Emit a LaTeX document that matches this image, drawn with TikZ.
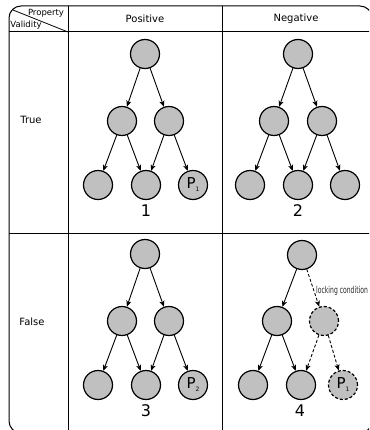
\documentclass[tikz,border=0pt]{standalone}
\usepackage{fontspec}
\setmainfont{DejaVu Sans}
\usetikzlibrary{arrows.meta}
\definecolor{nodegray}{RGB}{192,192,192}
\begin{document}
\begin{tikzpicture}[x=1pt,y=-1pt,
 tn/.style={circle,draw,fill=nodegray,line width=1.2pt,minimum size=29pt,inner sep=0pt},
 dn/.style={tn,dash pattern=on 3pt off 2pt},
 ar/.style={line width=0.9pt,-{Stealth[length=6pt,width=5pt,inset=1.5pt]}},
 dar/.style={ar,dash pattern=on 3pt off 2pt},
 hdr/.style={font=\fontsize{10}{12}\selectfont},
 small/.style={font=\fontsize{8.5}{10}\selectfont},
 num/.style={font=\fontsize{16}{18}\selectfont},
 frame/.style={line width=1pt}]
\useasboundingbox (0,0) rectangle (369,430);
\clip (0,0) rectangle (369,430);
% table frame
\draw[frame, rounded corners=12pt] (9,6) rectangle (372,433);
\draw[frame] (9,32) -- (372,32);
\draw[frame] (9,233) -- (372,233);
\draw[frame] (68,6) -- (68,433);
\draw[frame] (222,6) -- (222,433);
\draw[line width=0.8pt] (13,10) -- (68,32);
% headers
\node[small] (prop) at (46,13) {Property};
\node[small] (val) at (26,25) {Validity};
\node[hdr] (pos) at (145,19) {Positive};
\node[hdr] (neg) at (296,19) {Negative};
\node[hdr] (tru) at (31,120) {True};
\node[hdr] (fal) at (32,322) {False};
% tree 1
\node[tn] (a1) at (145,54) {};
\node[tn] (b1) at (122,121) {};
\node[tn] (c1) at (169,121) {};
\node[tn] (d1) at (98,185) {};
\node[tn] (e1) at (146,185) {};
\node[tn] (f1) at (193,185) {{\fontsize{15}{15}\selectfont P}\raisebox{-3pt}{\fontsize{6}{6}\selectfont 1}};
\node[num] (l1) at (146,211) {1};
\draw[ar] (a1) -- (b1);
\draw[ar] (a1) -- (c1);
\draw[ar] (b1) -- (d1);
\draw[ar] (b1) -- (e1);
\draw[ar] (c1) -- (e1);
\draw[ar] (c1) -- (f1);
% tree 2
\node[tn] (a2) at (298,54) {};
\node[tn] (b2) at (274,121) {};
\node[tn] (c2) at (322,121) {};
\node[tn] (d2) at (250,185) {};
\node[tn] (e2) at (298,185) {};
\node[tn] (f2) at (345,185) {};
\node[num] (l2) at (298,211) {2};
\draw[ar] (a2) -- (b2);
\draw[ar] (a2) -- (c2);
\draw[ar] (b2) -- (d2);
\draw[ar] (b2) -- (e2);
\draw[ar] (c2) -- (e2);
\draw[ar] (c2) -- (f2);
% tree 3
\node[tn] (a3) at (145,254) {};
\node[tn] (b3) at (122,321) {};
\node[tn] (c3) at (169,321) {};
\node[tn] (d3) at (98,385) {};
\node[tn] (e3) at (146,385) {};
\node[tn] (f3) at (193,385) {{\fontsize{15}{15}\selectfont P}\raisebox{-3pt}{\fontsize{6}{6}\selectfont 2}};
\node[num] (l3) at (146,411) {3};
\draw[ar] (a3) -- (b3);
\draw[ar] (a3) -- (c3);
\draw[ar] (b3) -- (d3);
\draw[ar] (b3) -- (e3);
\draw[ar] (c3) -- (e3);
\draw[ar] (c3) -- (f3);
% tree 4
\node[tn] (a4) at (302,255) {};
\node[tn] (b4) at (277,321) {};
\node[dn] (c4) at (324,321) {};
\node[tn] (d4) at (253,385) {};
\node[tn] (e4) at (301,385) {};
\node[dn] (f4) at (343,385) {{\fontsize{15}{15}\selectfont P}\raisebox{-3pt}{\fontsize{6}{6}\selectfont 1}};
\node[num] (l4) at (300,411) {4};
\draw[ar] (a4) -- (b4);
\draw[dar] (a4) -- (c4);
\draw[ar] (b4) -- (d4);
\draw[ar] (b4) -- (e4);
\draw[dar] (c4) -- (e4);
\draw[dar] (c4) -- (f4);
\node[anchor=west,inner sep=0pt,text=black!85,font=\fontsize{9.5}{10}\selectfont] (lock) at (316,291) {\scalebox{0.64}[1]{locking condition}};
\end{tikzpicture}
\end{document}
